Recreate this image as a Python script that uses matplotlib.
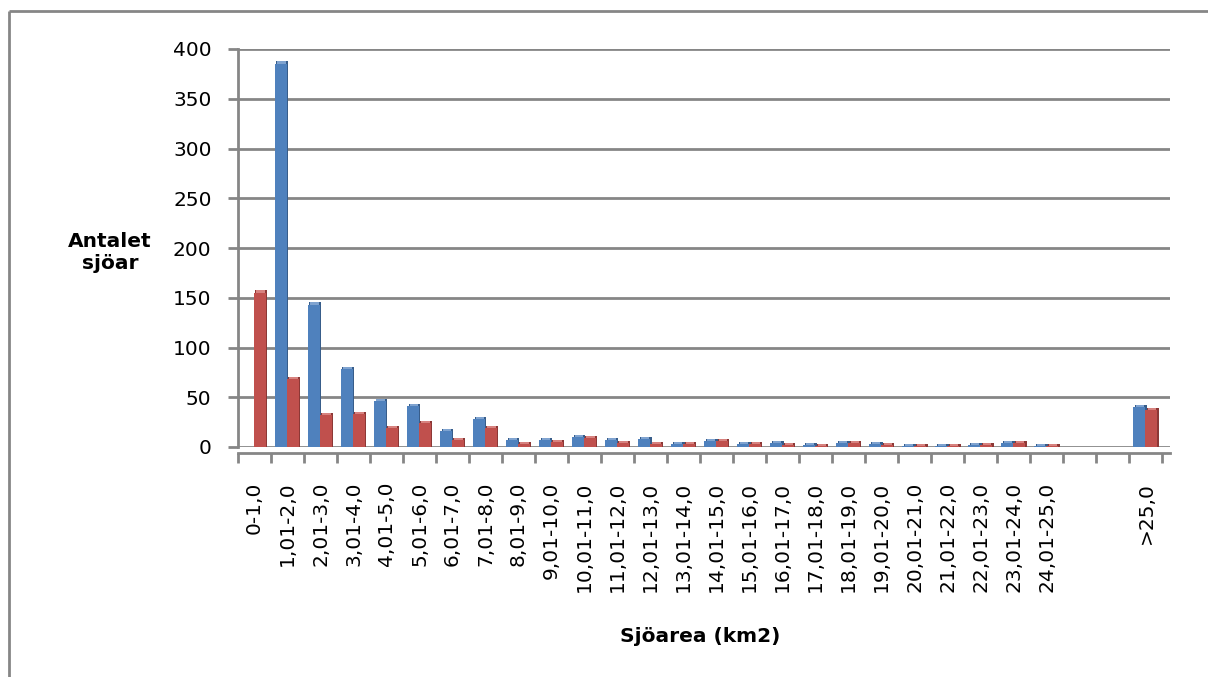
import numpy as np
import matplotlib as mpl
mpl.use('Agg')
import matplotlib.pyplot as plt
from matplotlib.lines import Line2D

plt.rcParams['font.family'] = ['DejaVu Sans']

# klasser (km2), två tomma platser före >25,0
labels = ['0-1,0', '1,01-2,0', '2,01-3,0', '3,01-4,0', '4,01-5,0', '5,01-6,0',
          '6,01-7,0', '7,01-8,0', '8,01-9,0', '9,01-10,0', '10,01-11,0',
          '11,01-12,0', '12,01-13,0', '13,01-14,0', '14,01-15,0', '15,01-16,0',
          '16,01-17,0', '17,01-18,0', '18,01-19,0', '19,01-20,0', '20,01-21,0',
          '21,01-22,0', '22,01-23,0', '23,01-24,0', '24,01-25,0', '', '', '>25,0']
blue = [0, 385, 143, 78, 46, 41, 16, 28, 7, 7, 10, 7, 8, 3, 6, 3,
        4, 2, 4, 3, 1, 1, 2, 4, 1, 0, 0, 40]
red = [155, 68, 32, 33, 19, 24, 7, 19, 3, 5, 9, 4, 3, 3, 6, 3,
       2, 1, 4, 2, 1, 1, 2, 4, 1, 0, 0, 37]

W, H = 1208, 677
fig = plt.figure(figsize=(W / 100, H / 100), dpi=100)
ax = fig.add_axes([238 / W, 1 - 447 / H, (1170 - 238) / W, (447 - 49) / H])

x = np.arange(len(labels))
bw = 0.36   # front face
sd = 0.09   # side depth
cap = 2.5   # depth in data units

series = [(blue, -bw / 2 - 0.02, '#4F81BD', '#385D8A', '#7FA3D0'),
          (red, bw / 2 - 0.02, '#C0504D', '#8C3836', '#D7827F')]
for vals, off, c, dark, light in series:
    v = np.array(vals, dtype=float)
    m = v > 0
    # side + top (dark/light), then front face
    ax.bar(x[m] + off + sd / 2, v[m] + cap, width=bw, color=dark, zorder=3)
    ax.bar(x[m] + off + sd / 2 - 0.02, v[m] + cap, width=bw - 0.1, color=light, zorder=3)
    ax.bar(x[m] + off, v[m], width=bw, color=c, zorder=4)

ax.set_xlim(-0.5, 27.73)
ax.set_ylim(0, 400)
ax.set_yticks(np.arange(0, 401, 50))
ax.set_xticks(x)
ax.set_xticklabels(labels)
ax.set_xticks(np.arange(-0.5, 28, 1), minor=True)
ax.tick_params(axis='x', which='major', length=0, pad=21, labelrotation=90,
               labelsize=14.5)
ax.tick_params(axis='x', which='minor', length=7, width=2, color='#868686', direction='out')
ax.tick_params(axis='y', length=7, width=2, color='#868686', labelsize=14.5, pad=12)

for s in ['top', 'right']:
    ax.spines[s].set_visible(False)
for s in ['left', 'bottom']:
    ax.spines[s].set_color('#868686')
    ax.spines[s].set_linewidth(2)
ax.spines['bottom'].set_position(('outward', 4))

ax.yaxis.grid(True, color='#868686', linewidth=2)
ax.set_axisbelow(True)

fig.text(110 / W, 1 - 253 / H, 'Antalet\nsjöar', ha='center', va='center',
         fontsize=14.5, fontweight='bold', linespacing=1.2)
fig.text(700 / W, 1 - 636 / H, 'Sjöarea (km2)', ha='center', va='center',
         fontsize=14.5, fontweight='bold')

# ram runt diagramytan
fig.add_artist(Line2D([9 / W, 9 / W], [0, 1 - 11 / H], color='#868686', lw=2,
                      solid_capstyle='butt'))
fig.add_artist(Line2D([9 / W, 1.01], [1 - 11 / H, 1 - 11 / H], color='#868686', lw=2,
                      solid_capstyle='butt'))

fig.savefig('out.png', dpi=100)
